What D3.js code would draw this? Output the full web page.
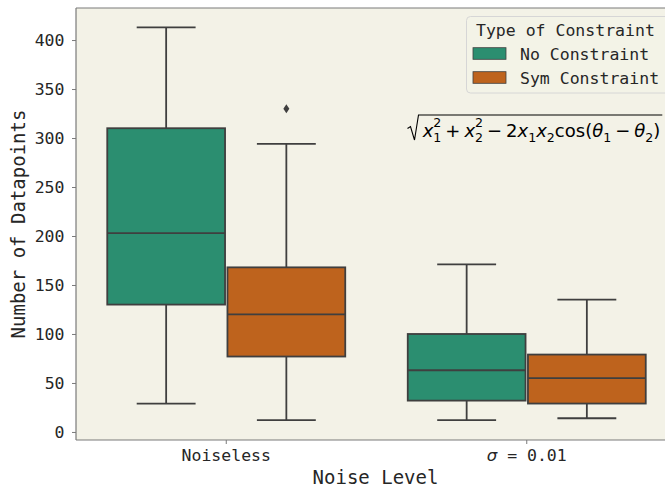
<!DOCTYPE html>
<html>
<head>
<meta charset="utf-8">
<script src="https://cdn.jsdelivr.net/npm/d3@7"></script>
<style>
  body { margin: 0; background: #fff; }
  svg { display: block; }
</style>
</head>
<body>
<div id="chart"></div>
<script>
// categories and hue levels
const categories = ["Noiseless", "sigma"];
const hues = ["No Constraint", "Sym Constraint"];
const yTicks = [0, 50, 100, 150, 200, 250, 300, 350, 400];

// box stats per category: [whisker low, q1, median, q3, whisker high]
const noConstraintStats = [[29, 130, 203, 310, 413], [12, 32, 63, 100, 171]];
const symConstraintStats = [[12, 77, 120, 168, 294], [14, 29, 55, 79, 135]];
const noConstraintOutliers = [[], []];
const symConstraintOutliers = [[330], []];

const colors = ["#2b8e70", "#be631d"];
const lineColor = "#3f3f3f";
const monoFont = "'DejaVu Sans Mono', monospace";

const W = 665, H = 487;
const plot = {left: 76, top: 8, bottom: 440, right: 677};

const svg = d3.select("#chart")
  .append("svg")
  .attr("width", W)
  .attr("height", H);

// axes background
svg.append("rect")
  .attr("x", plot.left)
  .attr("y", plot.top)
  .attr("width", plot.right - plot.left)
  .attr("height", plot.bottom - plot.top)
  .attr("fill", "#f3f2e7");

// scales
const x = d3.scaleBand()
  .domain(categories)
  .range([plot.left, plot.right])
  .paddingInner(0).paddingOuter(0);

const xHue = d3.scaleBand()
  .domain(hues)
  .range([-0.4 * x.bandwidth(), 0.4 * x.bandwidth()]);

const y = d3.scaleLinear()
  .domain([-8.2, 432.7])
  .range([plot.bottom, plot.top]);

// y axis
const yAxis = svg.append("g")
  .attr("transform", `translate(${plot.left},0)`)
  .call(d3.axisLeft(y).tickValues(yTicks).tickSize(4).tickPadding(7.5));
yAxis.select(".domain").remove();
yAxis.selectAll(".tick line").attr("stroke", "#7a7a7a").attr("stroke-width", 1);
yAxis.selectAll(".tick text")
  .style("font-family", monoFont)
  .style("font-size", "16.5px")
  .attr("fill", "#262626");

// x axis
const xAxis = svg.append("g")
  .attr("transform", `translate(0,${plot.bottom})`)
  .call(d3.axisBottom(x).tickSize(4).tickFormat(() => ""));
xAxis.select(".domain").remove();
xAxis.selectAll(".tick line").attr("stroke", "#7a7a7a").attr("stroke-width", 1);
xAxis.selectAll(".tick text").remove();

// x tick labels
const xLabels = svg.append("g");
xLabels.append("text")
  .attr("x", x("Noiseless") + x.bandwidth() / 2)
  .attr("y", 461)
  .attr("text-anchor", "middle")
  .style("font-family", monoFont)
  .style("font-size", "16.5px")
  .attr("fill", "#262626")
  .text("Noiseless");
const sigmaLabel = xLabels.append("text")
  .attr("x", x("sigma") + x.bandwidth() / 2)
  .attr("y", 461)
  .attr("text-anchor", "middle")
  .style("font-family", monoFont)
  .style("font-size", "16.5px")
  .attr("fill", "#262626");
sigmaLabel.append("tspan")
  .style("font-family", "'DejaVu Sans'")
  .style("font-style", "italic")
  .text("σ");
sigmaLabel.append("tspan").text(" = 0.01");

// axis titles
svg.append("text")
  .attr("transform", `translate(25,${(plot.top + plot.bottom) / 2}) rotate(-90)`)
  .attr("text-anchor", "middle")
  .style("font-family", monoFont)
  .style("font-size", "19px")
  .attr("fill", "#262626")
  .text("Number of Datapoints");

svg.append("text")
  .attr("x", 375.5)
  .attr("y", 484)
  .attr("text-anchor", "middle")
  .style("font-family", monoFont)
  .style("font-size", "19px")
  .attr("fill", "#262626")
  .text("Noise Level");

// boxes
const series = [
  {hue: hues[0], stats: noConstraintStats, outliers: noConstraintOutliers, color: colors[0]},
  {hue: hues[1], stats: symConstraintStats, outliers: symConstraintOutliers, color: colors[1]}
];

const boxW = 0.98 * xHue.bandwidth();
const capW = boxW / 2;

series.forEach(s => {
  categories.forEach((cat, i) => {
    const [lo, q1, med, q3, hi] = s.stats[i];
    const cx = x(cat) + x.bandwidth() / 2 + xHue(s.hue) + xHue.bandwidth() / 2;
    const g = svg.append("g");

    // whiskers
    g.append("line")
      .attr("x1", cx).attr("x2", cx)
      .attr("y1", y(q3)).attr("y2", y(hi))
      .attr("stroke", lineColor).attr("stroke-width", 1.8);
    g.append("line")
      .attr("x1", cx).attr("x2", cx)
      .attr("y1", y(q1)).attr("y2", y(lo))
      .attr("stroke", lineColor).attr("stroke-width", 1.8);
    // caps
    [lo, hi].forEach(v => {
      g.append("line")
        .attr("x1", cx - capW / 2).attr("x2", cx + capW / 2)
        .attr("y1", y(v)).attr("y2", y(v))
        .attr("stroke", lineColor).attr("stroke-width", 1.8);
    });
    // box
    g.append("rect")
      .attr("x", cx - boxW / 2)
      .attr("y", y(q3))
      .attr("width", boxW)
      .attr("height", y(q1) - y(q3))
      .attr("fill", s.color)
      .attr("stroke", lineColor)
      .attr("stroke-width", 1.8);
    // median
    g.append("line")
      .attr("x1", cx - boxW / 2).attr("x2", cx + boxW / 2)
      .attr("y1", y(med)).attr("y2", y(med))
      .attr("stroke", lineColor).attr("stroke-width", 1.8);
    // outliers (thin diamond)
    s.outliers[i].forEach(v => {
      g.append("path")
        .attr("d", `M${cx},${y(v) - 4.5} L${cx + 3},${y(v)} L${cx},${y(v) + 4.5} L${cx - 3},${y(v)} Z`)
        .attr("fill", lineColor);
    });
  });
});

// spines
svg.append("line")
  .attr("x1", plot.left).attr("x2", plot.left)
  .attr("y1", plot.top).attr("y2", plot.bottom)
  .attr("stroke", "#7a7a7a").attr("stroke-width", 1.2);
svg.append("line")
  .attr("x1", plot.left).attr("x2", plot.right)
  .attr("y1", plot.top).attr("y2", plot.top)
  .attr("stroke", "#7a7a7a").attr("stroke-width", 1.2);
svg.append("line")
  .attr("x1", plot.left).attr("x2", plot.right)
  .attr("y1", plot.bottom).attr("y2", plot.bottom)
  .attr("stroke", "#7a7a7a").attr("stroke-width", 1.2);

// formula annotation: one text, tspans placed after measuring
const fs = 18;
const base = 136.7;
const startX = 422.7;
const measurer = svg.append("text")
  .style("font-family", "'DejaVu Sans'")
  .attr("visibility", "hidden");
function measure(str, size, italic) {
  measurer.style("font-size", size + "px")
    .style("font-style", italic ? "italic" : "normal")
    .text(str);
  return measurer.node().getComputedTextLength();
}

const parts = [];
let fx = startX;
function sym(str, italic) {
  parts.push({t: str, x: fx, dy: 0, size: fs, italic});
  fx += measure(str, fs, italic);
}
function subsup(sub, sup) {
  parts.push({t: sub, x: fx, dy: 5.3, size: fs * 0.7, italic: false});
  let w = measure(sub, fs * 0.7, false);
  if (sup) {
    parts.push({t: sup, x: fx, dy: -9.4, size: fs * 0.7, italic: false});
    w = Math.max(w, measure(sup, fs * 0.7, false));
  }
  fx += w;
}
function op(str) { fx += 0.22 * fs; sym(str, false); fx += 0.22 * fs; }

sym("x", true); subsup("1", "2");
op("+");
sym("x", true); subsup("2", "2");
op("−");
sym("2", false); sym("x", true); subsup("1"); sym("x", true); subsup("2");
sym("cos(", false);
sym("θ", true); subsup("1");
op("−");
sym("θ", true); subsup("2");
sym(")", false);
measurer.remove();

const formula = svg.append("text")
  .style("font-family", "'DejaVu Sans'")
  .attr("fill", "#000");
parts.forEach(p => {
  formula.append("tspan")
    .attr("x", p.x)
    .attr("y", base + p.dy)
    .style("font-size", p.size + "px")
    .style("font-style", p.italic ? "italic" : "normal")
    .text(p.t);
});

svg.append("path")
  .attr("d", `M407.5,128.5 L410.5,126.5 L414.5,140 L418.5,115 H${fx + 2}`)
  .attr("fill", "none")
  .attr("stroke", "#000")
  .attr("stroke-width", 1.1);

// legend
const legend = svg.append("g");
legend.append("rect")
  .attr("x", 466.5).attr("y", 16.5)
  .attr("width", 240).attr("height", 76.5)
  .attr("rx", 4)
  .attr("fill", "#f3f2e7")
  .attr("fill-opacity", 0.8)
  .attr("stroke", "#d6d6d6")
  .attr("stroke-width", 1);
legend.append("text")
  .attr("x", 476).attr("y", 36)
  .style("font-family", monoFont)
  .style("font-size", "16.5px")
  .attr("fill", "#262626")
  .text("Type of Constraint");
hues.forEach((h, i) => {
  const top = 47.7 + i * 24;
  legend.append("rect")
    .attr("x", 473).attr("y", top)
    .attr("width", 33).attr("height", 11.6)
    .attr("fill", colors[i])
    .attr("stroke", lineColor)
    .attr("stroke-width", 0.8);
  legend.append("text")
    .attr("x", 520).attr("y", 60 + i * 24)
    .style("font-family", monoFont)
    .style("font-size", "16.5px")
    .attr("fill", "#262626")
    .text(h);
});
</script>
</body>
</html>
